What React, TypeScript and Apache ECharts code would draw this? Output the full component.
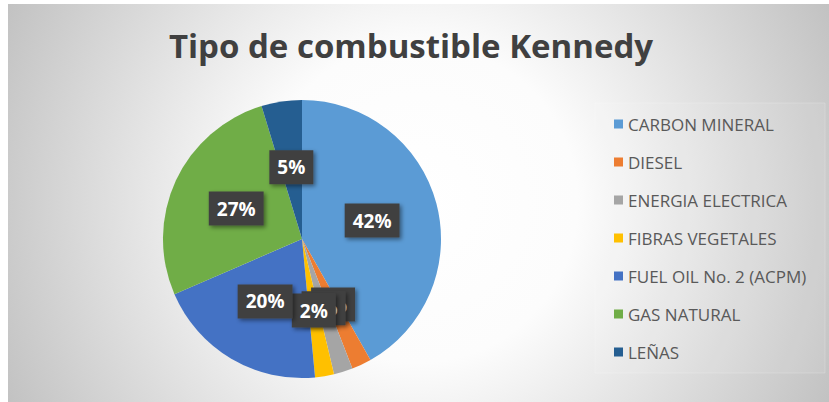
import React, { useEffect, useRef } from "react";
import * as echarts from "echarts";

const categories = [
  "CARBON MINERAL",
  "DIESEL",
  "ENERGIA ELECTRICA",
  "FIBRAS VEGETALES",
  "FUEL OIL No. 2 (ACPM)",
  "GAS NATURAL",
  "LEÑAS",
];
const shares = [41.8, 2.3, 2.2, 2.2, 20.0, 26.8, 4.7];
const colors = ["#5B9BD5", "#ED7D31", "#A5A5A5", "#FFC000", "#4472C4", "#70AD47", "#255E91"];
const titleText = "Tipo de combustible Kennedy";

export default function App() {
  const ref = useRef<HTMLDivElement>(null);
  useEffect(() => {
    if (!ref.current) return;
    const chart = echarts.init(ref.current, null, { renderer: "svg" });
    chart.setOption({
      animation: false,
      backgroundColor: {
        type: "radial",
        x: 410,
        y: 199,
        r: 456,
        global: true,
        colorStops: [
          { offset: 0, color: "#ffffff" },
          { offset: 0.35, color: "#fcfcfc" },
          { offset: 1, color: "#c2c2c2" },
        ],
      },
      color: colors,
      graphic: [
        {
          type: "rect",
          shape: { x: 587, y: 99, width: 230, height: 270 },
          style: { fill: "rgba(255,255,255,0.08)", stroke: "rgba(255,255,255,0.2)", lineWidth: 1 },
          silent: true,
        },
        {
          type: "text",
          x: 403,
          y: 41,
          style: {
            text: titleText,
            fill: "#404040",
            font: 'bold 33px "Open Sans"',
            align: "center",
            verticalAlign: "middle",
            textAlign: "center",
            textVerticalAlign: "middle",
          },
        },
      ],
      legend: {
        orient: "vertical",
        left: 601,
        top: 105,
        icon: "rect",
        itemWidth: 9,
        itemHeight: 9,
        itemGap: 18,
        selectedMode: false,
        textStyle: { color: "#595959", fontSize: 17, fontFamily: "Open Sans", lineHeight: 20 },
        data: categories,
      },
      series: [
        {
          type: "pie",
          center: [294, 235],
          radius: [0, 139],
          startAngle: 90,
          clockwise: true,
          avoidLabelOverlap: false,
          labelLayout: { hideOverlap: false },
          minShowLabelAngle: 0,
          label: {
            show: true,
            position: "inside",
            formatter: (p: any) => `${Math.round(p.percent)}%`,
            color: "#ffffff",
            fontFamily: "Open Sans",
            fontWeight: "bold",
            fontSize: 19,
            lineHeight: 20,
            backgroundColor: "#404040",
            padding: [7, 8],
            shadowColor: "rgba(0,0,0,0.45)",
            shadowBlur: 4,
            shadowOffsetX: 2,
            shadowOffsetY: 2,
          },
          labelLine: { show: false },
          itemStyle: { borderWidth: 0 },
          data: categories.map((name, i) => ({ name, value: shares[i] })),
        },
      ],
    });
    return () => chart.dispose();
  }, []);
  return (
    <div
      ref={ref}
      style={{ position: "absolute", left: 8, top: 4, width: 821, height: 398 }}
    />
  );
}
